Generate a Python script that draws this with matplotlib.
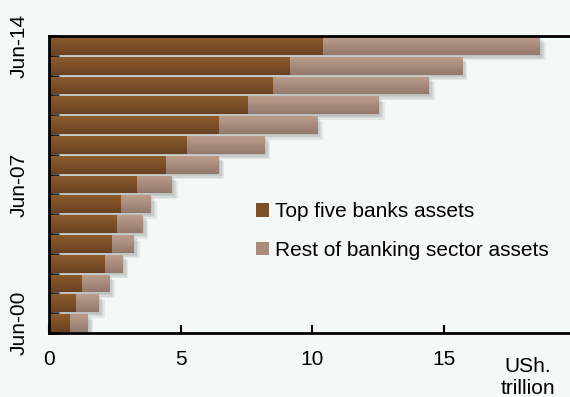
import numpy as np
import matplotlib
matplotlib.use("Agg")
import matplotlib.pyplot as plt
from matplotlib.colors import LinearSegmentedColormap
from matplotlib import patheffects as pe
from matplotlib.patches import Patch

plt.rcParams["font.family"] = ["Liberation Sans", "DejaVu Sans"]

# Banking sector assets, USh. trillion (June of each year)
periods = ["Jun-00", "Jun-01", "Jun-02", "Jun-03", "Jun-04", "Jun-05", "Jun-06",
           "Jun-07", "Jun-08", "Jun-09", "Jun-10", "Jun-11", "Jun-12", "Jun-13", "Jun-14"]
top_five = [0.80, 1.03, 1.25, 2.13, 2.40, 2.59, 2.74, 3.35, 4.45, 5.25, 6.46, 7.57, 8.52, 9.16, 10.42]
rest_of_sector = [0.68, 0.87, 1.03, 0.68, 0.83, 0.98, 1.14, 1.33, 2.01, 2.96, 3.73, 4.98, 5.93, 6.54, 8.25]
labelled_periods = ["Jun-00", "Jun-07", "Jun-14"]
x_ticks = [5, 10, 15]
x_tick_labels = ["0", "5", "10", "15"]
series_names = ["Top five banks assets", "Rest of banking sector assets"]

bg = "#F2F9F6"
dark_grad = LinearSegmentedColormap.from_list("dark", ["#6A4222", "#8D5B2D"])
light_grad = LinearSegmentedColormap.from_list("light", ["#94796D", "#BB9D8A"])
dark_mid, light_mid = "#7E5028", "#A98C7C"
fs = 15

fig = plt.figure(figsize=(5.7, 3.97), dpi=100, facecolor=bg)
ax = fig.add_axes([49 / 570, 64 / 397, 526 / 570, 297 / 397])
ax.set_facecolor(bg)

y = np.arange(len(periods))
h = 0.9
shadow = [pe.SimplePatchShadow(offset=(o, -o), shadow_rgbFace="#7a7a7a", alpha=0.13)
          for o in (1, 2, 3, 4)] + [pe.Normal()]

grad = np.linspace(0, 1, 64).reshape(-1, 1)


def gradient_bars(bars, cmap, z):
    for b in bars:
        b.set_path_effects(shadow)
        x0, y0 = b.get_x(), b.get_y()
        im = ax.imshow(grad, cmap=cmap, aspect="auto", origin="lower",
                       extent=[x0, x0 + b.get_width(), y0, y0 + b.get_height()],
                       zorder=z + 0.5, interpolation="bilinear")
        im.set_clip_path(b)


b1 = ax.barh(y, top_five, height=h, color=dark_mid, zorder=2, linewidth=0)
gradient_bars(b1, dark_grad, 2)
b2 = ax.barh(y, rest_of_sector, left=top_five, height=h, color=light_mid, zorder=3, linewidth=0)
gradient_bars(b2, light_grad, 3)

ax.set_xlim(0, 20)
ax.set_ylim(-0.5, len(periods) - 0.5)

# x axis
ax.set_xticks([0] + x_ticks)
ax.set_xticklabels(x_tick_labels, fontsize=fs)
ax.tick_params(axis="x", direction="in", length=6, width=1.5, pad=12, color="black")

# y axis: ticks between bars, labels on selected periods
ax.set_yticks(np.arange(len(periods) + 1) - 0.5)
ax.set_yticklabels([])
ax.tick_params(axis="y", which="major", direction="in", length=7, width=1.8)
ax.set_yticks([periods.index(p) for p in labelled_periods], minor=True)
ax.set_yticklabels(labelled_periods, minor=True, rotation=90, va="center", fontsize=fs)
ax.tick_params(axis="y", which="minor", length=0, pad=15)

for s in ("left", "top", "bottom", "right"):
    ax.spines[s].set_linewidth(2)
    ax.spines[s].set_color("black")
    ax.spines[s].set_zorder(10)

fig.text(528 / 570, 1 - 377 / 397, "USh.\ntrillion", ha="center", va="center",
         fontsize=fs, linespacing=1.2)

handles = [Patch(facecolor=dark_mid), Patch(facecolor=light_mid)]
ax.legend(handles, series_names, loc="upper left", frameon=False, fontsize=fs,
          handlelength=0.6, handleheight=0.6, handletextpad=0.3, labelspacing=0.95,
          bbox_to_anchor=(248 / 570, 1 - 194 / 397), bbox_transform=fig.transFigure,
          borderaxespad=0)

fig.savefig("out.png", dpi=100, facecolor=bg)
